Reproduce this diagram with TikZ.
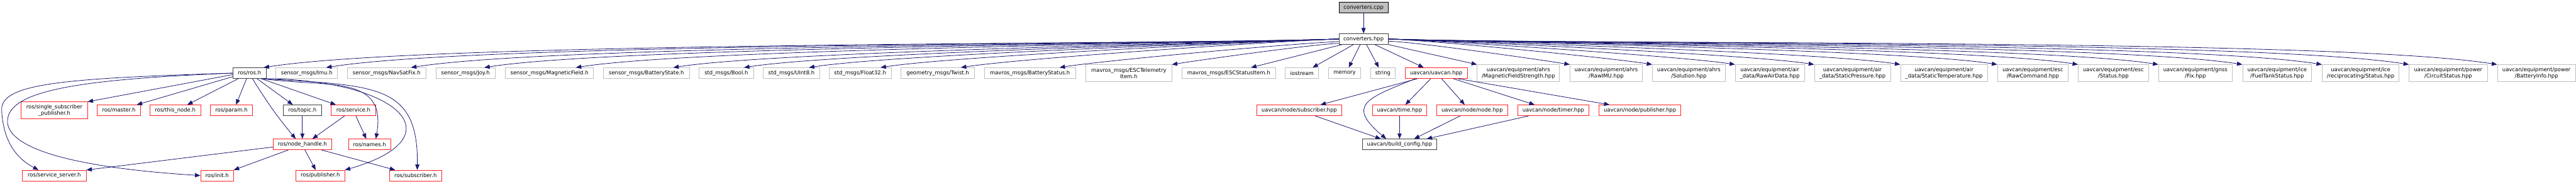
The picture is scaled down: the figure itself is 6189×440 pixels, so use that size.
\documentclass[tikz,border=0pt]{standalone}
\usepackage{fontspec}
\setmainfont{DejaVu Sans}
\usepackage{xcolor}
\usetikzlibrary{arrows.meta}
\definecolor{edgeblue}{RGB}{25,25,112}
\definecolor{truncred}{RGB}{255,35,35}
\definecolor{extgrey}{RGB}{191,191,191}
\definecolor{docgrey}{RGB}{64,64,64}

\begin{document}
\begin{tikzpicture}[x=1pt,y=-1pt,
  >={Triangle[length=13pt,width=10pt]},
  filebox/.style={rectangle,draw,fill=white,line width=1.2pt,inner sep=0pt,minimum height=25.5pt,align=center,font=\fontsize{12.8pt}{15pt}\selectfont},
  twoline/.style={minimum height=40pt},
  rootfile/.style={filebox,fill=extgrey,draw=black},
  docfile/.style={filebox,draw=docgrey},
  truncfile/.style={filebox,draw=truncred},
  extfile/.style={filebox,draw=extgrey},
  incl/.style={->,draw=edgeblue,line width=1.2pt}
]
\useasboundingbox (0,0) rectangle (6189,440);

% Root file and its header
\node[rootfile,minimum width=118pt] (cpp) at (3276,18.5) {converters.cpp};
\node[docfile,minimum width=118pt] (hpp) at (3276,93.5) {converters.hpp};

% Row 1: everything converters.hpp includes
\node[docfile,minimum width=79pt] (rosh) at (599.5,175.3) {ros/ros.h};
\node[extfile,minimum width=148pt] (imu) at (737,175.3) {sensor\_msgs/Imu.h};
\node[extfile,minimum width=188pt] (navsat) at (929,175.3) {sensor\_msgs/NavSatFix.h};
\node[extfile,minimum width=141pt] (joy) at (1118.5,175.3) {sensor\_msgs/Joy.h};
\node[extfile,minimum width=212pt] (magfield) at (1320,175.3) {sensor\_msgs/MagneticField.h};
\node[extfile,minimum width=206pt] (battstate) at (1553,175.3) {sensor\_msgs/BatteryState.h};
\node[extfile,minimum width=130pt] (boolh) at (1745,175.3) {std\_msgs/Bool.h};
\node[extfile,minimum width=135pt] (uint8h) at (1901.5,175.3) {std\_msgs/UInt8.h};
\node[extfile,minimum width=149pt] (float32h) at (2066.5,175.3) {std\_msgs/Float32.h};
\node[extfile,minimum width=176pt] (twist) at (2253,175.3) {geometry\_msgs/Twist.h};
\node[extfile,minimum width=219pt] (battstatus) at (2474.5,175.3) {mavros\_msgs/BatteryStatus.h};
\node[extfile,twoline,minimum width=206pt] (esctelem) at (2712,175.3) {mavros\_msgs/ESCTelemetry\\Item.h};
\node[extfile,minimum width=226pt] (escstatus) at (2952,175.3) {mavros\_msgs/ESCStatusItem.h};
\node[extfile,minimum width=80pt] (iostream) at (3128,175.3) {iostream};
\node[extfile,minimum width=77pt] (memory) at (3230.5,175.3) {memory};
\node[extfile,minimum width=59pt] (stringh) at (3322.5,175.3) {string};
\node[truncfile,minimum width=149pt] (uavcan) at (3450.5,175.3) {uavcan/uavcan.hpp};
\node[extfile,twoline,minimum width=198pt] (magstrength) at (3648,175.3) {uavcan/equipment/ahrs\\/MagneticFieldStrength.hpp};
\node[extfile,twoline,minimum width=174pt] (rawimu) at (3859,175.3) {uavcan/equipment/ahrs\\/RawIMU.hpp};
\node[extfile,twoline,minimum width=175pt] (solution) at (4057.5,175.3) {uavcan/equipment/ahrs\\/Solution.hpp};
\node[extfile,twoline,minimum width=166pt] (rawair) at (4252,175.3) {uavcan/equipment/air\\\_data/RawAirData.hpp};
\node[extfile,twoline,minimum width=183pt] (staticpress) at (4450.5,175.3) {uavcan/equipment/air\\\_data/StaticPressure.hpp};
\node[extfile,twoline,minimum width=209pt] (statictemp) at (4670.5,175.3) {uavcan/equipment/air\\\_data/StaticTemperature.hpp};
\node[extfile,twoline,minimum width=170pt] (rawcmd) at (4884,175.3) {uavcan/equipment/esc\\/RawCommand.hpp};
\node[extfile,twoline,minimum width=169pt] (escstat) at (5077.5,175.3) {uavcan/equipment/esc\\/Status.hpp};
\node[extfile,twoline,minimum width=177pt] (gnssfix) at (5274.5,175.3) {uavcan/equipment/gnss\\/Fix.hpp};
\node[extfile,twoline,minimum width=166pt] (fueltank) at (5471,175.3) {uavcan/equipment/ice\\/FuelTankStatus.hpp};
\node[extfile,twoline,minimum width=185pt] (recip) at (5671.5,175.3) {uavcan/equipment/ice\\/reciprocating/Status.hpp};
\node[extfile,twoline,minimum width=188pt] (circuit) at (5882,175.3) {uavcan/equipment/power\\/CircuitStatus.hpp};
\node[extfile,twoline,minimum width=188pt] (battinfo) at (6094,175.3) {uavcan/equipment/power\\/BatteryInfo.hpp};

% Row 2
\node[truncfile,twoline,minimum width=159pt] (singlesub) at (130.5,264.5) {ros/single\_subscriber\\\_publisher.h};
\node[truncfile,minimum width=103pt] (master) at (285.5,264.5) {ros/master.h};
\node[truncfile,minimum width=122pt] (thisnode) at (421,264.5) {ros/this\_node.h};
\node[truncfile,minimum width=100pt] (param) at (556,264.5) {ros/param.h};
\node[docfile,minimum width=91pt] (topic) at (726.5,264.5) {ros/topic.h};
\node[truncfile,minimum width=106pt] (service) at (849,264.5) {ros/service.h};
\node[truncfile,minimum width=203pt] (nodesub) at (3121.5,264.5) {uavcan/node/subscriber.hpp};
\node[truncfile,minimum width=131pt] (timeh) at (3362.5,264.5) {uavcan/time.hpp};
\node[truncfile,minimum width=170pt] (nodenode) at (3537,264.5) {uavcan/node/node.hpp};
\node[truncfile,minimum width=170pt] (timer) at (3732,264.5) {uavcan/node/timer.hpp};
\node[truncfile,minimum width=196pt] (nodepub) at (3940,264.5) {uavcan/node/publisher.hpp};

% Row 3
\node[truncfile,minimum width=141pt] (nodehandle) at (726.5,346.3) {ros/node\_handle.h};
\node[truncfile,minimum width=102pt] (names) at (888,346.3) {ros/names.h};
\node[docfile,minimum width=179pt] (buildcfg) at (3362.5,346.3) {uavcan/build\_config.hpp};

% Row 4
\node[truncfile,minimum width=153pt] (servserver) at (130.5,421) {ros/service\_server.h};
\node[truncfile,minimum width=79pt] (init) at (521.5,421) {ros/init.h};
\node[truncfile,minimum width=117pt] (publisher) at (769.5,421) {ros/publisher.h};
\node[truncfile,minimum width=125pt] (subscriber) at (998.5,421) {ros/subscriber.h};

\draw[incl] (cpp) -- (hpp);

% converters.hpp, left fan
\draw[incl] (hpp.west) .. controls +(-406,14) and +(401,-63) .. ([xshift=-6pt]rosh.north east);
\draw[incl] (hpp.west) .. controls +(-382,13) and +(377,-60) .. ([xshift=-28pt]imu.north east);
\draw[incl] (hpp.west) .. controls +(-350,12) and +(346,-55) .. ([xshift=-36pt]navsat.north east);
\draw[incl] (hpp.west) .. controls +(-322,11) and +(318,-50) .. ([xshift=-26pt]joy.north east);
\draw[incl] (hpp.west) .. controls +(-288,10) and +(285,-45) .. ([xshift=-43pt]magfield.north east);
\draw[incl] (hpp.west) .. controls +(-251,9) and +(248,-39) .. ([xshift=-39pt]battstate.north east);
\draw[incl] (hpp.west) .. controls +(-225,8) and +(222,-35) .. ([xshift=-23pt]boolh.north east);
\draw[incl] (hpp.west) .. controls +(-200,7) and +(198,-31) .. ([xshift=-26pt]uint8h.north east);
\draw[incl] (hpp.west) .. controls +(-173,6) and +(171,-27) .. ([xshift=-26pt]float32h.north east);
\draw[incl] (hpp.west) .. controls +(-143,5) and +(141,-22) .. ([xshift=-33pt]twist.north east);
\draw[incl] (hpp.186) .. controls +(-106,4) and +(105,-17) .. ([xshift=-39pt]battstatus.north east);
\draw[incl] (hpp.190) .. controls +(-63,2) and +(62,-10) .. (esctelem.north east);
\draw[incl] ([xshift=8pt]hpp.south west) -- ([xshift=-60pt]escstatus.north east);
\draw[incl] ([xshift=-24pt]hpp.south) -- ([xshift=-15pt]iostream.north east);
\draw[incl] ([xshift=-8pt]hpp.south) -- ([xshift=10pt]memory.north);
\draw[incl] ([xshift=7pt]hpp.south) -- ([xshift=-10pt]stringh.north);
\draw[incl] ([xshift=27pt]hpp.south) -- ([xshift=-30pt]uavcan.north);

% converters.hpp, right fan
\draw[incl] (hpp.south east) -- (magstrength.north west);
\draw[incl] (hpp.355) .. controls +(69,2) and +(-68,-11) .. (rawimu.north west);
\draw[incl] (hpp.east) .. controls +(100,3) and +(-99,-16) .. (solution.north west);
\draw[incl] (hpp.east) .. controls +(131,5) and +(-129,-20) .. (rawair.north west);
\draw[incl] (hpp.east) .. controls +(161,6) and +(-159,-25) .. (staticpress.north west);
\draw[incl] (hpp.east) .. controls +(193,7) and +(-191,-30) .. (statictemp.north west);
\draw[incl] (hpp.east) .. controls +(230,8) and +(-227,-36) .. (rawcmd.north west);
\draw[incl] (hpp.east) .. controls +(260,9) and +(-257,-41) .. (escstat.north west);
\draw[incl] (hpp.east) .. controls +(291,10) and +(-287,-45) .. (gnssfix.north west);
\draw[incl] (hpp.east) .. controls +(322,11) and +(-318,-50) .. (fueltank.north west);
\draw[incl] (hpp.east) .. controls +(352,12) and +(-348,-55) .. (recip.north west);
\draw[incl] (hpp.east) .. controls +(385,13) and +(-380,-60) .. (circuit.north west);
\draw[incl] (hpp.east) .. controls +(418,15) and +(-413,-65) .. (battinfo.north west);

% ros/ros.h
\draw[incl] (rosh.west) .. controls (150,188) and (0,200) .. (4,265) .. controls (8,340) and (40,380) .. ([xshift=-38pt]servserver.north);
\draw[incl] (rosh.west) .. controls (200,190) and (20,215) .. (18,290) .. controls (17,350) and (150,400) .. (init.west);
\draw[incl] (rosh.185) -- (singlesub.north east);
\draw[incl] (rosh.192) -- ([xshift=-9pt]master.north east);
\draw[incl] ([xshift=13pt]rosh.south west) -- ([xshift=29pt]thisnode.north);
\draw[incl] ([xshift=-7pt]rosh.south) -- ([xshift=11pt]param.north);
\draw[incl] ([xshift=7pt]rosh.south) .. controls +(37,59) and +(-45,-54) .. ([xshift=-16pt]nodehandle.north);
\draw[incl] ([xshift=18pt]rosh.south) -- ([xshift=-23pt]topic.north);
\draw[incl] ([xshift=28pt]rosh.south) -- ([xshift=-42pt]service.north);
\draw[incl] ([xshift=-9pt]rosh.south east) .. controls +(156,22) and +(27,-156) .. ([xshift=15pt]names.north);
\draw[incl] ([xshift=-6pt]rosh.south east) .. controls +(327,2) and +(272,-78) .. (publisher.north east);
\draw[incl] ([xshift=-9pt]rosh.south east) .. controls +(270,17) and +(3,-208) .. ([xshift=4pt]subscriber.north);

% topic, service, node_handle
\draw[incl] (topic) -- (nodehandle);
\draw[incl] ([xshift=-21pt]service.south) -- ([xshift=24pt]nodehandle.north);
\draw[incl] ([xshift=6pt]service.south) -- ([xshift=-8pt]names.north);
\draw[incl] (nodehandle.185) -- (servserver.north east);
\draw[incl] ([xshift=-34pt]nodehandle.south) -- (init.north east);
\draw[incl] ([xshift=6pt]nodehandle.south) -- ([xshift=-11pt]publisher.north);
\draw[incl] ([xshift=46pt]nodehandle.south) -- ([xshift=-49pt]subscriber.north);

% uavcan/uavcan.hpp
\draw[incl] ([xshift=-45pt]uavcan.south) -- ([xshift=51pt]nodesub.north);
\draw[incl] ([xshift=-50pt]uavcan.south) .. controls +(-117,47) and +(-97,-81) .. ([xshift=-32pt]buildcfg.north);
\draw[incl] ([xshift=-13pt]uavcan.south) -- ([xshift=14pt]timeh.north);
\draw[incl] ([xshift=13pt]uavcan.south) -- ([xshift=-18pt]nodenode.north);
\draw[incl] ([xshift=41pt]uavcan.south) -- ([xshift=-45pt]timer.north);
\draw[incl] ([xshift=52pt]uavcan.south) -- ([xshift=-73pt]nodepub.north);

% build_config
\draw[incl] ([xshift=38pt]nodesub.south) -- ([xshift=-45pt]buildcfg.north);
\draw[incl] (timeh) -- (buildcfg);
\draw[incl] ([xshift=-29pt]nodenode.south) -- ([xshift=35pt]buildcfg.north);
\draw[incl] ([xshift=-59pt]timer.south) -- ([xshift=65pt]buildcfg.north);

\end{tikzpicture}
\end{document}
